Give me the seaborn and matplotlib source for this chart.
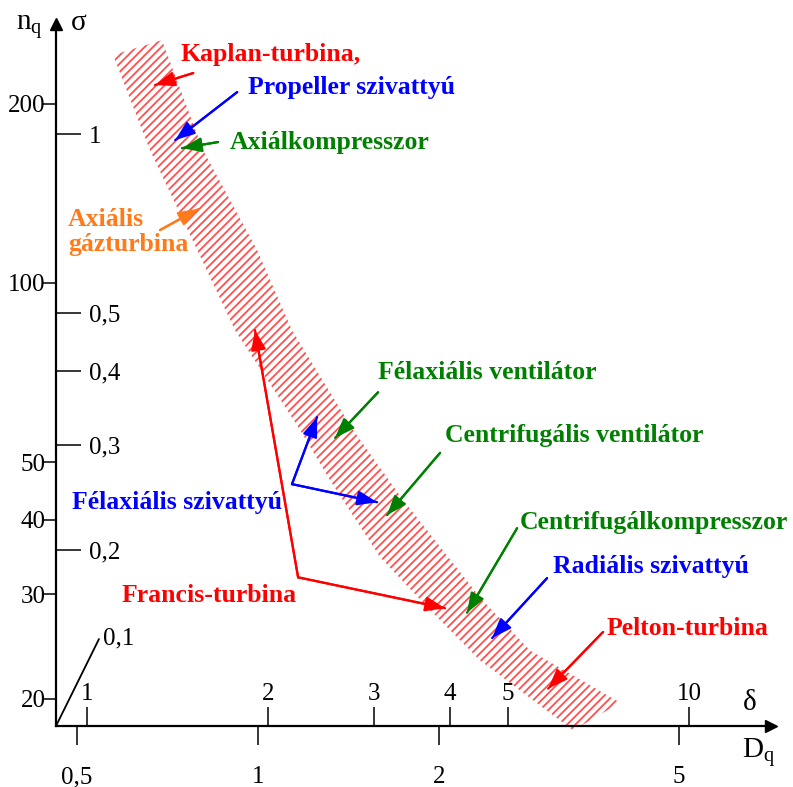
import numpy as np
import pandas as pd
import matplotlib
matplotlib.use("Agg")
import matplotlib.pyplot as plt
from matplotlib.ticker import FixedLocator, FixedFormatter, NullLocator
import seaborn as sns

# ---------------- data ----------------
# hatched Cordier band, edges in (D_q, n_q)
band_upper_dq = [0.692, 0.810, 0.996, 1.138, 1.438, 1.740, 2.337, 2.830, 3.993]
band_upper_nq = [255.9, 167.2, 113.6, 83.3, 56.6, 43.2, 29.6, 24.1, 19.7]
band_lower_dq = [0.574, 0.661, 0.792, 0.915, 1.174, 1.316, 1.594, 1.930, 2.337, 3.336]
band_lower_nq = [241.5, 167.2, 113.6, 83.3, 56.6, 46.6, 34.6, 28.2, 23.2, 17.7]

# axis ticks
nq_ticks = [20, 30, 40, 50, 100, 200]
nq_labels = ["20", "30", "40", "50", "100", "200"]
sigma_ticks = [0.2, 0.3, 0.4, 0.5, 1]
sigma_labels = ["0,2", "0,3", "0,4", "0,5", "1"]
dq_ticks = [0.5, 1, 2, 5]
dq_labels = ["0,5", "1", "2", "5"]
delta_ticks = [1, 2, 3, 4, 5, 10]
delta_labels = ["1", "2", "3", "4", "5", "10"]
SIGMA_PER_NQ = 1 / 177.9
DELTA_PER_DQ = 1.923

RED, BLUE, GREEN, ORANGE = "#ff0000", "#0000ff", "#008000", "#ff7a1a"

# machine-type labels
labels = ["Kaplan-turbina,", "Propeller szivattyú", "Axiálkompresszor",
          "Axiális\ngázturbina", "Félaxiális ventilátor", "Centrifugális ventilátor",
          "Félaxiális szivattyú", "Francis-turbina", "Centrifugálkompresszor",
          "Radiális szivattyú", "Pelton-turbina"]
label_colors = [RED, BLUE, GREEN, ORANGE, GREEN, GREEN, BLUE, RED, GREEN, BLUE, RED]
label_dq = [0.742, 0.962, 0.898, 0.483, 1.582, 2.044, 0.491, 0.594, 2.723, 3.090, 3.784]
label_nq = [242.4, 213.4, 172.5, 121.8, 70.8, 55.5, 42.8, 29.8, 39.6, 33.4, 26.3]

# arrows: tail -> tip
arrow_tail_dq = [0.780, 0.923, 0.858, 0.687, 1.582, 2.005, 1.138, 1.138, 1.165, 1.165, 2.692, 3.019, 3.740]
arrow_tail_nq = [225.3, 209.3, 172.5, 122.7, 65.5, 51.8, 45.9, 45.9, 32.0, 32.0, 38.7, 31.9, 25.9]
arrow_tip_dq = [0.674, 0.728, 0.747, 0.795, 1.342, 1.637, 1.253, 1.576, 0.988, 2.044, 2.223, 2.447, 3.031]
arrow_tip_nq = [215.1, 173.8, 168.5, 133.1, 54.9, 40.7, 59.5, 42.8, 83.3, 28.4, 27.9, 25.3, 20.8]
arrow_colors = [RED, BLUE, GREEN, ORANGE, GREEN, GREEN, BLUE, BLUE, RED, RED, GREEN, BLUE, RED]

# ---------------- style ----------------
sns.set_theme(style="white")
plt.rcParams["font.family"] = ["Liberation Serif", "DejaVu Serif"]
plt.rcParams["mathtext.default"] = "regular"
plt.rcParams["hatch.linewidth"] = 1.3

fig = plt.figure(figsize=(7.93, 7.87), dpi=100)
ax = fig.add_axes([56 / 793, 61 / 787, 715 / 793, 702 / 787])
ax.set_xscale("log")
ax.set_yscale("log")
ax.set_xlim(0.4615, 7.11)
ax.set_ylim(18.0, 272.4)

# band
poly_x = band_upper_dq + band_lower_dq[::-1]
poly_y = band_upper_nq + band_lower_nq[::-1]
ax.fill(poly_x, poly_y, facecolor="none", edgecolor="#ff5050", hatch="////",
        linewidth=0, clip_on=False, zorder=1)

# arrow shafts via seaborn
rows = []
for i, (tx, ty, hx, hy) in enumerate(zip(arrow_tail_dq, arrow_tail_nq, arrow_tip_dq, arrow_tip_nq)):
    rows.append({"arrow": i, "order": 0, "dq": tx, "nq": ty})
    rows.append({"arrow": i, "order": 1, "dq": hx, "nq": hy})
df = pd.DataFrame(rows)
sns.lineplot(data=df, x="dq", y="nq", hue="arrow", units="arrow", estimator=None,
             sort=False, palette={i: c for i, c in enumerate(arrow_colors)},
             legend=False, linewidth=1.6, ax=ax, zorder=3)
for tx, ty, hx, hy, c in zip(arrow_tail_dq, arrow_tail_nq, arrow_tip_dq, arrow_tip_nq, arrow_colors):
    ax.annotate("", xy=(hx, hy), xytext=(tx, ty),
                arrowprops=dict(arrowstyle="-|>,head_length=0.8,head_width=0.3",
                                color=c, lw=1.6, shrinkA=0, shrinkB=0,
                                mutation_scale=15), zorder=4)

for t, c, x, y in zip(labels, label_colors, label_dq, label_nq):
    ax.text(x, y, t, color=c, fontsize=18.5, fontweight="bold", ha="left",
            va="center", linespacing=1.1, zorder=5)

ax.set_xlabel("")
ax.set_ylabel("")

# spines / axis arrows
sns.despine(ax=ax)
for s in ("left", "bottom"):
    ax.spines[s].set_color("black")
    ax.spines[s].set_linewidth(1.6)
ax.plot(1, 0, ">", color="black", ms=9, transform=ax.transAxes, clip_on=False)
ax.plot(0, 1, "^", color="black", ms=9, transform=ax.transAxes, clip_on=False)

# main ticks
ax.xaxis.set_major_locator(FixedLocator(dq_ticks))
ax.xaxis.set_major_formatter(FixedFormatter(dq_labels))
ax.xaxis.set_minor_locator(NullLocator())
ax.yaxis.set_major_locator(FixedLocator(nq_ticks))
ax.yaxis.set_major_formatter(FixedFormatter(nq_labels))
ax.yaxis.set_minor_locator(NullLocator())
ax.tick_params(axis="x", which="major", direction="out", length=14, width=1.1,
               pad=15, labelsize=18, bottom=True, color="black", labelcolor="black")
ax.tick_params(axis="y", which="major", direction="out", length=9.5, width=1.1,
               pad=-2, labelsize=18, left=True, color="black", labelcolor="black")

# sigma scale on the vertical axis
sec_y = ax.secondary_yaxis(0, functions=(lambda n: n * SIGMA_PER_NQ,
                                          lambda s: s / SIGMA_PER_NQ))
sec_y.set_alignment("right")
sec_y.yaxis.set_major_locator(FixedLocator(sigma_ticks))
sec_y.yaxis.set_major_formatter(FixedFormatter(sigma_labels))
sec_y.yaxis.set_minor_locator(NullLocator())
sec_y.tick_params(axis="y", which="major", direction="out", length=18, width=1.1,
                  pad=6, labelsize=18, right=True, left=False, labelright=True,
                  labelleft=False, color="black", labelcolor="black")
for s in sec_y.spines.values():
    s.set_visible(False)

# delta scale on the horizontal axis
sec_x = ax.secondary_xaxis(0, functions=(lambda d: d * DELTA_PER_DQ,
                                          lambda t: t / DELTA_PER_DQ))
sec_x.set_alignment("top")
sec_x.xaxis.set_major_locator(FixedLocator(delta_ticks))
sec_x.xaxis.set_major_formatter(FixedFormatter(delta_labels))
sec_x.xaxis.set_minor_locator(NullLocator())
sec_x.tick_params(axis="x", which="major", direction="out", length=14, width=1.1,
                  pad=1, labelsize=18, top=True, bottom=False, labeltop=True,
                  labelbottom=False, color="black", labelcolor="black")
for s in sec_x.spines.values():
    s.set_visible(False)

# sigma = 0,1 marker (oblique line at origin)
ax.plot([0, 0.0601], [0, 0.1239], color="black", lw=1.3, transform=ax.transAxes,
        clip_on=False)
ax.text(0.0657, 0.124, "0,1", fontsize=18, ha="left", va="center",
        transform=ax.transAxes, color="black")

# axis names
ax.text(-0.038, 0.9915, r"$n_q$", fontsize=21, ha="center", va="baseline",
        transform=ax.transAxes, color="black")
ax.text(0.0315, 0.9915, "σ", fontsize=21, ha="center", va="baseline",
        transform=ax.transAxes, color="black")
ax.text(0.9706, 0.0228, "δ", fontsize=21, ha="center", va="baseline",
        transform=ax.transAxes, color="black")
ax.text(0.982, -0.0456, r"$D_q$", fontsize=21, ha="center", va="baseline",
        transform=ax.transAxes, color="black")

fig.savefig("out.png", dpi=100)
